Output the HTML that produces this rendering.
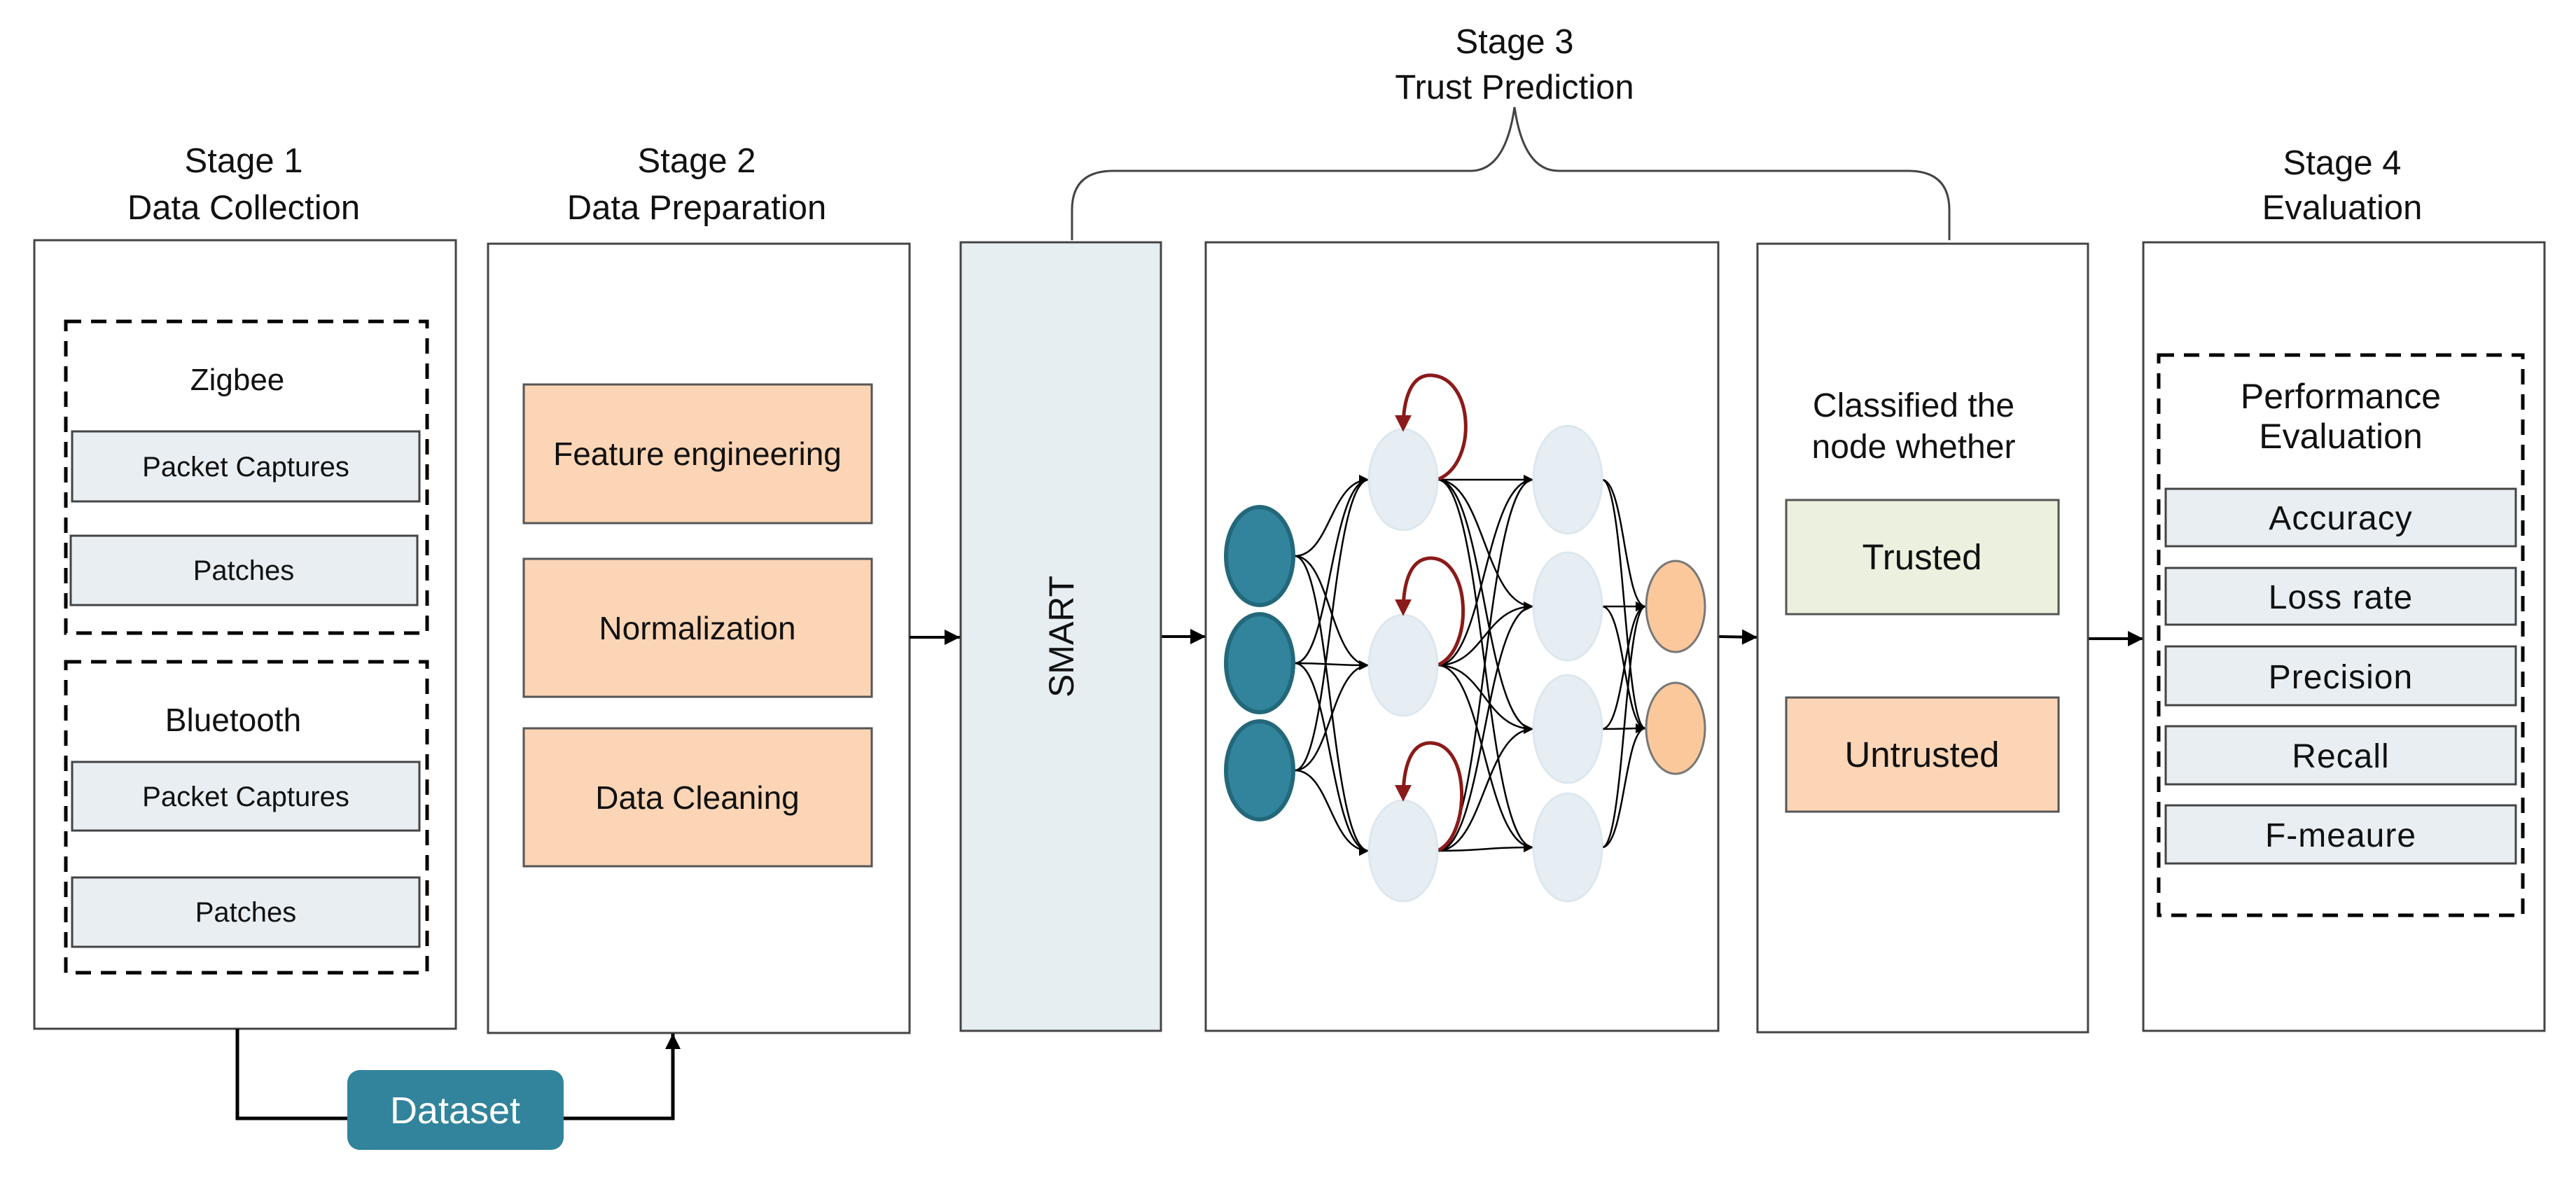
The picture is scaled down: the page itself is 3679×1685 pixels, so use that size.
<!DOCTYPE html>
<html><head><meta charset="utf-8"><style>
html,body{margin:0;padding:0;background:#fff;}
svg{display:block;}
.t{font-family:"Liberation Sans",Arial,sans-serif;fill:#111;}
</style></head><body>
<svg width="3679" height="1685" viewBox="0 0 3679 1685" xmlns="http://www.w3.org/2000/svg">
<defs>
<marker id="big" viewBox="0 0 10 10" refX="10" refY="5" markerWidth="26" markerHeight="22" orient="auto" markerUnits="userSpaceOnUse"><path d="M0,0 L10,5 L0,10 z" fill="#000"/></marker>
<marker id="sm" viewBox="0 0 10 10" refX="10" refY="5" markerWidth="16" markerHeight="14" orient="auto" markerUnits="userSpaceOnUse"><path d="M0,0 L10,5 L0,10 z" fill="#000"/></marker>
<marker id="red" viewBox="0 0 10 10" refX="8" refY="5" markerWidth="24" markerHeight="24" orient="auto" markerUnits="userSpaceOnUse"><path d="M0,0 L10,5 L0,10 z" fill="#8b1a1a"/></marker>
</defs>
<g class="t" font-size="49" text-anchor="middle">
<text x="348" y="246">Stage 1</text><text x="348" y="313">Data Collection</text>
<text x="995" y="246">Stage 2</text><text x="995" y="313">Data Preparation</text>
<text x="2163" y="76">Stage 3</text><text x="2163" y="141">Trust Prediction</text>
<text x="3345" y="249">Stage 4</text><text x="3345" y="313">Evaluation</text>
</g>
<!-- Stage 1 -->
<rect x="49" y="343" width="602" height="1126" fill="#fff" stroke="#444" stroke-width="3"/>
<rect x="94" y="459" width="516" height="445" fill="none" stroke="#000" stroke-width="5" stroke-dasharray="22,14"/>
<rect x="94" y="945" width="516" height="444" fill="none" stroke="#000" stroke-width="5" stroke-dasharray="22,14"/>
<g stroke="#444" stroke-width="3" fill="#e8eef2">
<rect x="103" y="616" width="496" height="100"/><rect x="101" y="765" width="495" height="99"/>
<rect x="103" y="1088" width="496" height="98"/><rect x="103" y="1253" width="496" height="99"/>
</g>
<g class="t" font-size="40" text-anchor="middle" fill="#222">
<text x="339" y="557" font-size="44">Zigbee</text>
<text x="351" y="680">Packet Captures</text><text x="348" y="828">Patches</text>
<text x="333" y="1044" font-size="46">Bluetooth</text>
<text x="351" y="1151">Packet Captures</text><text x="351" y="1316">Patches</text>
</g>
<!-- Stage 2 -->
<rect x="697" y="348" width="602" height="1127" fill="#fff" stroke="#444" stroke-width="3"/>
<g stroke="#555" stroke-width="3" fill="#fbd5b5">
<rect x="748" y="549" width="497" height="198"/><rect x="748" y="798" width="497" height="197"/><rect x="748" y="1040" width="497" height="197"/>
</g>
<g class="t" font-size="46" text-anchor="middle" fill="#222">
<text x="996" y="664">Feature engineering</text><text x="996" y="913">Normalization</text><text x="996" y="1155">Data Cleaning</text>
</g>
<!-- dataset connector -->
<polyline points="339,1469 339,1597 500,1597" fill="none" stroke="#000" stroke-width="5"/>
<polyline points="805,1597 961,1597 961,1476" fill="none" stroke="#000" stroke-width="5" marker-end="url(#big)"/>
<rect x="496" y="1528" width="309" height="114" rx="18" fill="#31849b"/>
<text class="t" x="650" y="1604" font-size="54" text-anchor="middle" style="fill:#fff">Dataset</text>
<!-- arrows between stages -->
<g stroke="#000" stroke-width="4" marker-end="url(#big)">
<line x1="1299" y1="910" x2="1371" y2="910"/>
<line x1="1658" y1="909" x2="1722" y2="909"/>
<line x1="2454" y1="909" x2="2510" y2="910"/>
<line x1="2982" y1="912" x2="3061" y2="912"/>
</g>
<!-- brace -->
<path d="M1531,343 L1531,300 Q1531,244 1590,244 L2100,244 Q2150,244 2163,153 Q2176,244 2226,244 L2725,244 Q2784,244 2784,300 L2784,343" fill="none" stroke="#444" stroke-width="3"/>
<!-- SMART -->
<rect x="1372" y="346" width="286" height="1126" fill="#e6eef2" stroke="#444" stroke-width="3"/>
<text class="t" x="0" y="0" font-size="50" text-anchor="middle" transform="translate(1533,909) rotate(-90)">SMART</text>
<!-- NN box -->
<rect x="1722" y="346" width="732" height="1126" fill="#fff" stroke="#444" stroke-width="3"/>
<g fill="none" stroke="#000" stroke-width="2.5" marker-end="url(#sm)">
<path d="M1849,794 C1900,794 1900,685 1955,685"/><path d="M1849,794 C1900,794 1900,950 1955,950"/><path d="M1849,794 C1900,794 1900,1215 1955,1215"/>
<path d="M1849,947 C1900,947 1900,685 1955,685"/><path d="M1849,947 C1900,947 1900,950 1955,950"/><path d="M1849,947 C1900,947 1900,1215 1955,1215"/>
<path d="M1849,1100 C1900,1100 1900,685 1955,685"/><path d="M1849,1100 C1900,1100 1900,950 1955,950"/><path d="M1849,1100 C1900,1100 1900,1215 1955,1215"/>
<path d="M2053,685 C2120,685 2120,685 2190,685"/><path d="M2053,685 C2120,685 2120,866 2190,866"/><path d="M2053,685 C2120,685 2120,1041 2190,1041"/><path d="M2053,685 C2120,685 2120,1210 2190,1210"/>
<path d="M2053,950 C2120,950 2120,685 2190,685"/><path d="M2053,950 C2120,950 2120,866 2190,866"/><path d="M2053,950 C2120,950 2120,1041 2190,1041"/><path d="M2053,950 C2120,950 2120,1210 2190,1210"/>
<path d="M2053,1215 C2120,1215 2120,685 2190,685"/><path d="M2053,1215 C2120,1215 2120,866 2190,866"/><path d="M2053,1215 C2120,1215 2120,1041 2190,1041"/><path d="M2053,1215 C2120,1215 2120,1210 2190,1210"/>
<path d="M2288,685 C2320,685 2320,866 2350,866"/><path d="M2288,866 C2320,866 2320,866 2350,866"/><path d="M2288,1041 C2320,1041 2320,866 2350,866"/><path d="M2288,1210 C2320,1210 2320,866 2350,866"/>
<path d="M2288,685 C2320,685 2320,1040 2350,1040"/><path d="M2288,866 C2320,866 2320,1040 2350,1040"/><path d="M2288,1041 C2320,1041 2320,1040 2350,1040"/><path d="M2288,1210 C2320,1210 2320,1040 2350,1040"/>
</g>
<g fill="#31849b" stroke="#23687a" stroke-width="6">
<ellipse cx="1799" cy="794" rx="48" ry="70"/><ellipse cx="1799" cy="947" rx="48" ry="70"/><ellipse cx="1799" cy="1100" rx="48" ry="70"/>
</g>
<g fill="#e6eef3" stroke="#dde7ee" stroke-width="3">
<ellipse cx="2004" cy="685" rx="49" ry="72"/><ellipse cx="2004" cy="950" rx="49" ry="72"/><ellipse cx="2004" cy="1215" rx="49" ry="72"/>
<ellipse cx="2239" cy="685" rx="49" ry="77"/><ellipse cx="2239" cy="866" rx="49" ry="77"/><ellipse cx="2239" cy="1041" rx="49" ry="77"/><ellipse cx="2239" cy="1210" rx="49" ry="77"/>
</g>
<g fill="#fac89b" stroke="#777" stroke-width="3">
<ellipse cx="2393" cy="866" rx="42" ry="65"/><ellipse cx="2393" cy="1040" rx="42" ry="65"/>
</g>
<g fill="none" stroke="#8b1a1a" stroke-width="5" marker-end="url(#red)">
<path d="M2055,684 C2110,660 2105,540 2045,536 C2015,534 2004,570 2004,612"/>
<path d="M2055,949 C2105,925 2100,800 2045,797 C2015,796 2004,830 2004,875"/>
<path d="M2055,1214 C2100,1190 2100,1065 2045,1061 C2015,1059 2004,1095 2004,1140"/>
</g>
<!-- classify box -->
<rect x="2510" y="348" width="472" height="1126" fill="#fff" stroke="#444" stroke-width="3"/>
<g class="t" font-size="48" text-anchor="middle" fill="#222">
<text x="2733" y="595">Classified the</text><text x="2733" y="654">node whether</text>
</g>
<rect x="2551" y="714" width="389" height="163" fill="#ebf1de" stroke="#555" stroke-width="3"/>
<rect x="2551" y="996" width="389" height="163" fill="#fbd5b5" stroke="#555" stroke-width="3"/>
<g class="t" font-size="51" text-anchor="middle" fill="#222">
<text x="2745" y="813">Trusted</text><text x="2745" y="1095">Untrusted</text>
</g>
<!-- Stage 4 -->
<rect x="3061" y="346" width="573" height="1126" fill="#fff" stroke="#444" stroke-width="3"/>
<rect x="3083" y="507" width="520" height="800" fill="none" stroke="#000" stroke-width="5" stroke-dasharray="22,14"/>
<g class="t" font-size="50" text-anchor="middle" fill="#222">
<text x="3343" y="583">Performance</text><text x="3343" y="640">Evaluation</text>
</g>
<g stroke="#444" stroke-width="3" fill="#e8eef2">
<rect x="3093" y="698" width="500" height="82"/><rect x="3093" y="811" width="500" height="81"/><rect x="3093" y="923" width="500" height="84"/><rect x="3093" y="1037" width="500" height="83"/><rect x="3093" y="1150" width="500" height="83"/>
</g>
<g class="t" font-size="48" text-anchor="middle" fill="#222" letter-spacing="1">
<text x="3343" y="756">Accuracy</text><text x="3343" y="869">Loss rate</text><text x="3343" y="983">Precision</text><text x="3343" y="1096">Recall</text><text x="3343" y="1209">F-meaure</text>
</g>
</svg>
</body></html>
